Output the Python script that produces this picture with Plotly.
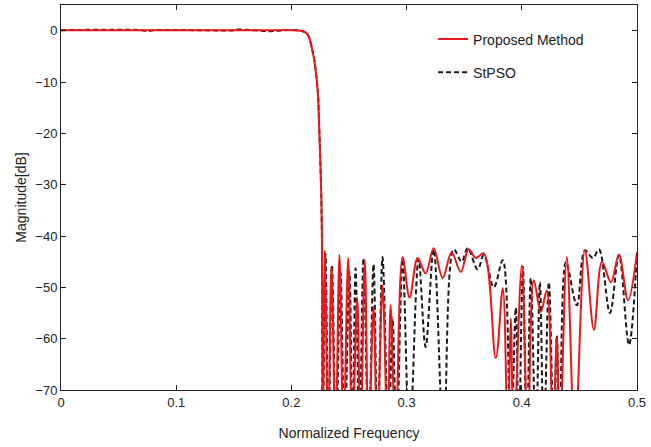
import plotly.graph_objects as go

# Normalized frequency / magnitude (dB)
prop_f = [0.0, 0.05, 0.1, 0.15, 0.19, 0.2, 0.2078, 0.2136, 0.2183, 0.2226, 0.2243, 0.2257, 0.2265, 0.2272,
          0.2290, 0.2319, 0.2348, 0.2383, 0.2417, 0.2452, 0.2493, 0.2528, 0.2571, 0.2600, 0.2637, 0.2670,
          0.2713, 0.2745, 0.2791, 0.2835, 0.2861, 0.2904, 0.2965, 0.3026, 0.3096, 0.3165, 0.3235, 0.3313,
          0.3391, 0.3470, 0.3539, 0.3600, 0.3670, 0.3774, 0.3835, 0.3878, 0.3904, 0.3930, 0.4000, 0.4052,
          0.4104, 0.4165, 0.4217, 0.4270, 0.4304, 0.4330, 0.4391, 0.4461, 0.4548, 0.4626, 0.4696, 0.4774,
          0.4843, 0.4922, 0.5000]
prop_db = [0.1, 0.1, 0.1, 0.1, 0.1, 0.1, 0.0, -0.6, -3.9, -11, -20, -30, -40, -80,
           -42.8, -80, -46, -80, -43.7, -80, -44.3, -80, -52, -80, -44.7, -80,
           -53.9, -80, -49.6, -80, -53.5, -80, -44.1, -52, -44.3, -47.3, -42.4, -48.2,
           -43.2, -47, -42.6, -44.3, -43.4, -63.8, -50.2, -80, -56, -80, -45.7, -80,
           -48.6, -54.8, -50.6, -80, -59.7, -80, -44.1, -80, -42.8, -58.3, -45, -49,
           -43.6, -52.5, -43.2]

stpso_f = [0.0, 0.07, 0.075, 0.08, 0.15, 0.151, 0.166, 0.182, 0.195, 0.2078, 0.2136, 0.2183, 0.2226,
           0.2243, 0.2257, 0.2265, 0.2272,
           0.2296, 0.2322, 0.2352, 0.2387, 0.2426, 0.2461, 0.2504, 0.2530, 0.2557, 0.2591, 0.2626, 0.2670,
           0.2713, 0.2748, 0.2791, 0.2843, 0.2878, 0.2913, 0.2965, 0.3026, 0.3104, 0.3165, 0.3235, 0.3322,
           0.3409, 0.3478, 0.3530, 0.3617, 0.3670, 0.3757, 0.3835, 0.3904, 0.3948, 0.3974, 0.4009, 0.4043,
           0.4078, 0.4122, 0.4157, 0.4191, 0.4235, 0.4278, 0.4304, 0.4330, 0.4383, 0.4478, 0.4548, 0.4617,
           0.4670, 0.4765, 0.4843, 0.4930, 0.5000]
stpso_db = [0.1, 0.1, -0.1, 0.1, 0.1, 0.2, 0.1, -0.1, 0.1, 0.0, -0.6, -3.9, -11,
            -20, -30, -40, -80,
            -43.5, -80, -45.7, -80, -47, -80, -47, -80, -46.3, -80, -44.3, -80,
            -45.5, -80, -44.1, -80, -56, -80, -44.5, -80, -44.5, -61.6, -42.6, -80,
            -42.6, -45, -42.4, -46.5, -43.7, -50, -44.7, -80, -54, -80, -46, -80,
            -48.2, -80, -49, -80, -49, -80, -59.4, -80, -45.1, -53.5, -42.8, -44.3,
            -42.6, -55, -43.7, -61.2, -43.2]

x_ticks = [0, 0.1, 0.2, 0.3, 0.4, 0.5]
x_labels = ["0", "0.1", "0.2", "0.3", "0.4", "0.5"]
y_ticks = [0, -10, -20, -30, -40, -50, -60, -70]

fig = go.Figure()
fig.add_trace(go.Scatter(x=stpso_f, y=stpso_db, mode="lines", name="StPSO",
                         line=dict(color="#1a1a1a", width=2, dash="5px,3px", shape="spline", smoothing=1.0),
                         legendgroup="b", legendrank=2))
fig.add_trace(go.Scatter(x=prop_f, y=prop_db, mode="lines", name="Proposed Method",
                         line=dict(color="#e8191e", width=2, shape="spline", smoothing=1.0),
                         legendgroup="a", legendrank=1))

axis_common = dict(showline=True, linecolor="#222", linewidth=1, mirror="ticks", ticks="inside",
                   ticklen=5, tickcolor="#222", showgrid=False, zeroline=False, automargin=False,
                   tickfont=dict(family="Liberation Sans, Arial", size=13, color="#222"))

fig.update_layout(
    width=651, height=447,
    margin=dict(l=61, r=14, t=5, b=57, autoexpand=False),
    paper_bgcolor="white", plot_bgcolor="white",
    font=dict(family="Liberation Sans, Arial", size=14, color="#222"),
    xaxis=dict(range=[0, 0.5], tickvals=x_ticks, ticktext=x_labels,
               title=dict(text="Normalized Frequency", font=dict(size=14)), **axis_common),
    yaxis=dict(range=[-70, 5], tickvals=y_ticks,
               title=dict(text="Magnitude[dB]", standoff=10, font=dict(size=14)), **axis_common),
    legend=dict(x=0.646, y=0.952, xanchor="left", yanchor="top", traceorder="grouped",
                tracegroupgap=12, bgcolor="rgba(0,0,0,0)", font=dict(size=14)),
    showlegend=True,
)

post = ("document.body.style.margin='0';document.body.style.padding='0';"
        "var t=document.querySelector('.g-xtitle text');"
        "if(t){t.setAttribute('transform','translate(0,4)');}"
        "var u=document.querySelector('.g-ytitle text');"
        "if(u){var tr=u.getAttribute('transform')||'';u.setAttribute('transform','translate(5,0) '+tr);}")
fig.write_html("out.html", config={"displayModeBar": False}, post_script=post)
